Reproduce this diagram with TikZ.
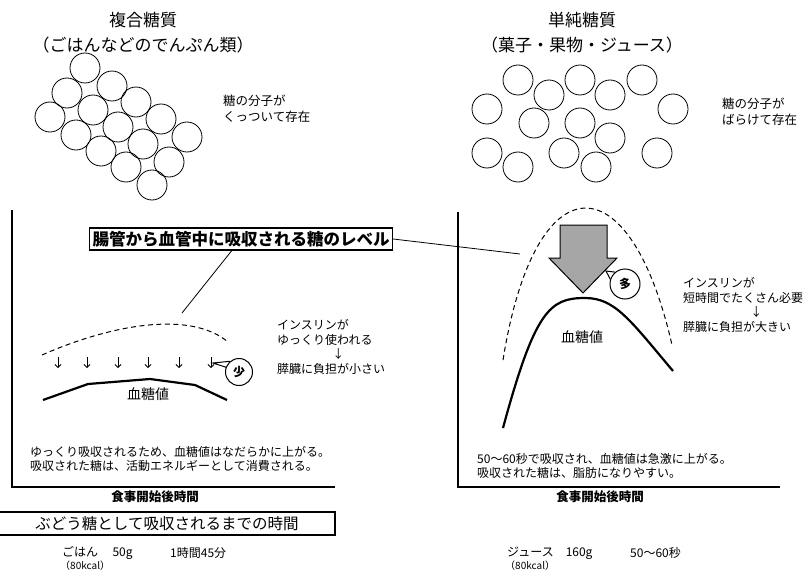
\documentclass[tikz,border=0pt]{standalone}
\usepackage{fontspec}
\setmainfont{Noto Sans CJK JP}
\usetikzlibrary{arrows.meta}

\tikzset{
    mol/.style={draw, circle, minimum size=30pt, inner sep=0pt, line width=0.8pt},
    title/.style={font=\fontsize{17}{20}\selectfont},
    note/.style={anchor=west, align=left, inner sep=0pt, font=\fontsize{12}{14.6}\selectfont},
    bubble/.style={draw, circle, fill=white, minimum size=27pt, inner sep=0pt, line width=1pt,
        font=\bfseries\fontsize{12}{14}\selectfont},
    axis/.style={line width=1.8pt},
    bsline/.style={line width=2.2pt},
    glevel/.style={dash pattern=on 5pt off 3.5pt, line width=1pt},
}

\begin{document}
\begin{tikzpicture}[x=1pt, y=-1pt]
    \useasboundingbox (0,0) rectangle (811,575);

    % titles
    \node[title] (tl1) at (143,20) {複合糖質};
    \node[title] (tl2) at (143,45) {（ごはんなどのでんぷん類）};
    \node[title] (tr1) at (582,20) {単純糖質};
    \node[title] (tr2) at (582,45) {（菓子・果物・ジュース）};

    % molecules
    \foreach \cx/\cy [count=\i] in {85/68, 112/86, 67/93, 136/102, 50/117, 93/110,
            161/119, 118/127, 76/135, 187/137, 143/144, 101/151, 169/162, 126/167, 152/185}
        \node[mol] (ma\i) at (\cx,\cy) {};
    \foreach \cx/\cy [count=\i] in {518/80, 580/80, 642/80, 549/95, 610/95, 487/109,
            673/109, 534/123, 580/123, 610/138, 487/153, 564/153, 657/153, 518/167, 596/167}
        \node[mol] (mb\i) at (\cx,\cy) {};

    \node[note, font=\fontsize{12.5}{16}\selectfont] (mola) at (223,109) {糖の分子が\\くっついて存在};
    \node[note, font=\fontsize{12.5}{16}\selectfont] (molb) at (722,112) {糖の分子が\\ばらけて存在};

    % axes
    \draw[axis] (12,210) coordinate (ya) -- (12,487) coordinate (oa) -- (335,487) coordinate (xa);
    \draw[axis] (458,212) coordinate (yb) -- (458,487) coordinate (ob) -- (780,487) coordinate (xb);
    \node[font=\bfseries\fontsize{12.5}{14}\selectfont] (xla) at (155,497) {食事開始後時間};
    \node[font=\bfseries\fontsize{12.5}{14}\selectfont] (xlb) at (600,497) {食事開始後時間};

    % level of absorbed sugar
    \node[draw, line width=1.2pt, fill=white, inner sep=3pt,
        font=\bfseries\fontsize{16.5}{18}\selectfont] (lvlbox) at (241,239) {腸管から血管中に吸収される糖のレベル};
    \coordinate (lvla) at (182,313);
    \coordinate (lvlb) at (520,254);
    \draw[line width=0.8pt] (lvlbox) -- (lvla);
    \draw[line width=0.8pt] (lvlbox.east) -- (lvlb);

    % left curves
    \draw[glevel] (42,355) .. controls (110,325) and (190,310) .. (228,342);
    \foreach \ax in {58, 87, 118, 148, 179, 211}
        \draw[-{Straight Barb[length=3pt,width=6pt]}, line width=0.8pt] (\ax,357) -- (\ax,368);
    \draw[bsline] (43,400) -- (88,384) -- (150,379) -- (195,385) -- (227,400);
    \node[font=\fontsize{14}{16}\selectfont] (bsa) at (148,394) {血糖値};

    \coordinate (taila) at (213,363);
    \node[bubble] (bubl) at (239,372) {少};
    \draw[line width=1pt] (bubl.130) -- (taila) -- (bubl.160);

    \node[note] (insa) at (277,347) {インスリンが\\ゆっくり使われる\\\hspace*{4.6em}↓\\膵臓に負担が小さい};

    % right curves
    \draw[glevel] (503,360) .. controls (535,160) and (630,160) .. (672,345);
    \draw[line width=1pt, fill=black!35] (560,225) -- (607,225) -- (607,258) -- (617,258)
        -- (583,293) coordinate (tip) -- (549,258) -- (560,258) -- cycle;
    \draw[bsline] (503,428) .. controls (535,310) and (550,298) .. (585,298)
        .. controls (615,298) and (630,320) .. (673,371);
    \node[font=\fontsize{14}{16}\selectfont] (bsb) at (582,337) {血糖値};

    \coordinate (tailb) at (606,271);
    \node[bubble, minimum size=30pt] (bubr) at (625,284) {多};
    \draw[line width=1pt] (bubr.130) -- (tailb) -- (bubr.162);

    \node[note] (insb) at (683,305) {インスリンが\\短時間でたくさん必要\\\hspace*{5.6em}↓\\膵臓に負担が大きい};

    % explanations
    \node[note] (expa) at (30,459) {ゆっくり吸収されるため、血糖値はなだらかに上がる。\\吸収された糖は、活動エネルギーとして消費される。};
    \node[note] (expb) at (477,466) {50〜60秒で吸収され、血糖値は急激に上がる。\\吸収された糖は、脂肪になりやすい。};

    % time to glucose
    \node[draw, line width=1.2pt, minimum width=336pt, minimum height=23pt, inner sep=0pt,
        font=\fontsize{15.5}{17}\selectfont] (gluc) at (167,523.5) {ぶどう糖として吸収されるまでの時間};

    \node[note] (fooda) at (62,553) {ごはん\hspace{1.2em}50g};
    \node[note] (timea) at (170,553) {1時間45分};
    \node[note, font=\fontsize{10}{12}\selectfont] (kcala) at (60,566) {（80kcal）};
    \node[note] (foodb) at (507,553) {ジュース\hspace{1em}160g};
    \node[note] (timeb) at (630,553) {50〜60秒};
    \node[note, font=\fontsize{10}{12}\selectfont] (kcalb) at (505,566) {（80kcal）};
\end{tikzpicture}
\end{document}
